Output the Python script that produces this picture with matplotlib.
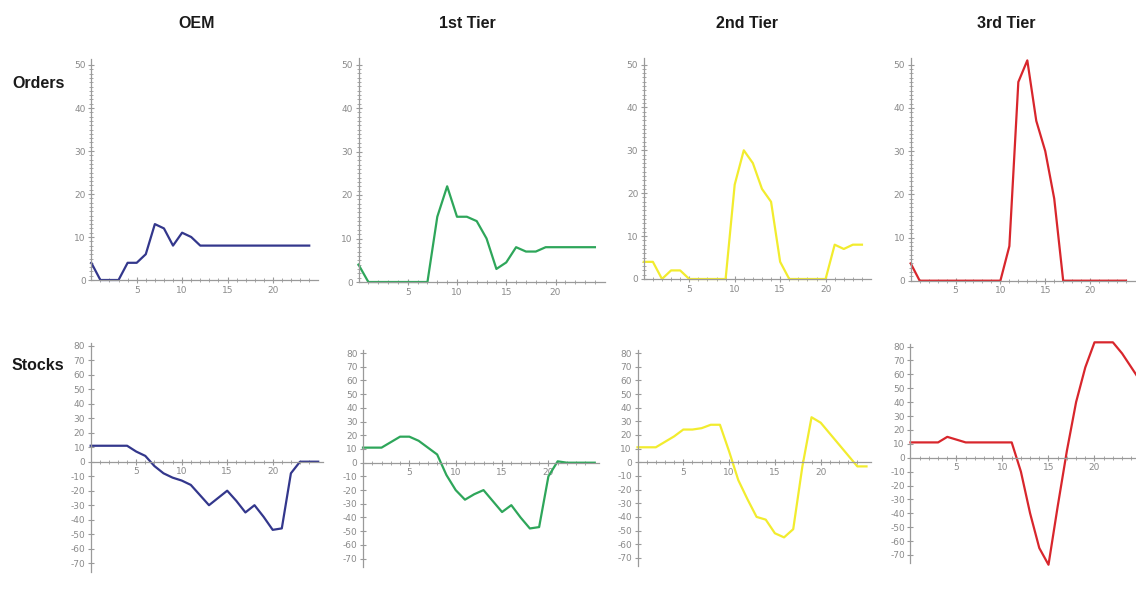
import numpy as np
import matplotlib.pyplot as plt
from matplotlib.ticker import FixedLocator

plt.rcParams['axes.unicode_minus'] = False

W, H = 1136, 609

# 订单数据 (x = 0..24)
t_orders = np.arange(0, 25)
oem_orders = [4, 0, 0, 0, 4, 4, 6, 13, 12, 8, 11, 10, 8, 8, 8, 8, 8, 8, 8, 8, 8, 8, 8, 8, 8]
tier1_orders = [4, 0, 0, 0, 0, 0, 0, 0, 15, 22, 15, 15, 14, 10, 3, 4.5, 8, 7, 7, 8, 8, 8, 8, 8, 8]
tier2_orders = [4, 4, 0, 2, 2, 0, 0, 0, 0, 0, 22, 30, 27, 21, 18, 4, 0, 0, 0, 0, 0, 8, 7, 8, 8]
tier3_orders = [4, 0, 0, 0, 0, 0, 0, 0, 0, 0, 0, 8, 46, 51, 37, 30, 19, 0, 0, 0, 0, 0, 0, 0, 0]

# 库存数据 (x = 0..25)
t_stocks = np.arange(0, 26)
oem_stocks = [11, 11, 11, 11, 11, 7, 4, -3, -8, -11, -13, -16, -23, -30, -25, -20, -27, -35,
              -30, -38, -47, -46, -8, 0, 0, 0]
tier1_stocks = [11, 11, 11, 15, 19, 19, 16, 11, 6, -9, -20, -27, -23, -20, -28, -36, -31, -40,
                -48, -47, -10, 1, 0, 0, 0, 0]
tier2_stocks = [11, 11, 11, 15, 19, 24, 24, 25, 27.5, 27.5, 8, -13, -27, -40, -42, -52, -55, -49,
                -3, 33, 29, 21, 13, 5, -3, -3]
tier3_stocks = [11, 11, 11, 11, 15, 13, 11, 11, 11, 11, 11, 11, -10, -40, -65, -77, -35, 5, 40,
                65, 83, 83, 83, 75, 65, 55]

columns = ['OEM', '1st Tier', '2nd Tier', '3rd Tier']
rows = ['Orders', 'Stocks']
colors = ['#33378c', '#2ea65a', '#f2ec2e', '#d8262c']
orders = [oem_orders, tier1_orders, tier2_orders, tier3_orders]
stocks = [oem_stocks, tier1_stocks, tier2_stocks, tier3_stocks]

# 像素布局: (x=0 像素, 每单位像素, y=0 像素, 每单位像素)
orders_layout = [(91.3, 9.08, 280.0, 4.30), (358.5, 9.85, 282.0, 4.35),
                 (643.8, 9.09, 279.0, 4.29), (910.7, 8.97, 280.7, 4.32)]
stocks_layout = [(90.7, 9.10, 461.7, 1.45), (363.0, 9.27, 462.7, 1.37),
                 (637.5, 9.16, 462.3, 1.365), (910.5, 9.20, 457.7, 1.39)]

title_x = [197, 467, 747, 1006]

axis_col = '#9a9a9a'
label_col = '#8a8a8a'
head_font = ['Liberation Sans', 'DejaVu Sans']

fig = plt.figure(figsize=(W / 100, H / 100), dpi=100)


def make_axes(layout, xlim, ylim):
    x0, ux, y0, uy = layout
    left = x0 + xlim[0] * ux
    width = (xlim[1] - xlim[0]) * ux
    top = y0 - ylim[1] * uy
    height = (ylim[1] - ylim[0]) * uy
    ax = fig.add_axes([left / W, 1 - (top + height) / H, width / W, height / H])
    ax.set_xlim(xlim)
    ax.set_ylim(ylim)
    ax.patch.set_visible(False)
    return ax


def style_axes(ax, xb, yb, yticks, yminor):
    for s in ['top', 'right']:
        ax.spines[s].set_visible(False)
    ax.spines['left'].set_position(('data', 0))
    ax.spines['bottom'].set_position(('data', 0))
    ax.spines['left'].set_bounds(*yb)
    ax.spines['bottom'].set_bounds(*xb)
    for s in ['left', 'bottom']:
        ax.spines[s].set_color(axis_col)
        ax.spines[s].set_linewidth(0.9)
    ax.xaxis.set_major_locator(FixedLocator([5, 10, 15, 20]))
    ax.xaxis.set_minor_locator(FixedLocator(np.arange(1, 25)))
    ax.yaxis.set_major_locator(FixedLocator(yticks))
    ax.yaxis.set_minor_locator(FixedLocator(yminor))
    ax.tick_params(which='major', direction='inout', length=5, width=0.8,
                   color=axis_col, labelcolor=label_col, labelsize=6.5, pad=1.5)
    ax.tick_params(which='minor', direction='inout', length=3, width=0.6, color=axis_col)


for j in range(4):
    ax = make_axes(orders_layout[j], (-2, 26), (-4, 53))
    ax.plot(t_orders, orders[j], color=colors[j], lw=1.6, solid_joinstyle='round')
    style_axes(ax, (0, 25), (0, 51.5), np.arange(0, 51, 10), np.arange(1, 50))

    ax = make_axes(stocks_layout[j], (-2, 26), (-82, 86))
    ax.plot(t_stocks, stocks[j], color=colors[j], lw=1.6, solid_joinstyle='round')
    style_axes(ax, (0, 25.5), (-76, 82), np.arange(-70, 81, 10), [])

    fig.text(title_x[j] / W, 1 - 24 / H, columns[j], ha='center', va='center',
             fontsize=11.5, fontweight='bold', color='#1a1a1a', family=head_font)

fig.text(12 / W, 1 - 83 / H, rows[0], ha='left', va='center', fontsize=11.5,
         fontweight='bold', color='#1a1a1a', family=head_font)
fig.text(12 / W, 1 - 365 / H, rows[1], ha='left', va='center', fontsize=11.5,
         fontweight='bold', color='#1a1a1a', family=head_font)

plt.savefig('out.png', dpi=100)
